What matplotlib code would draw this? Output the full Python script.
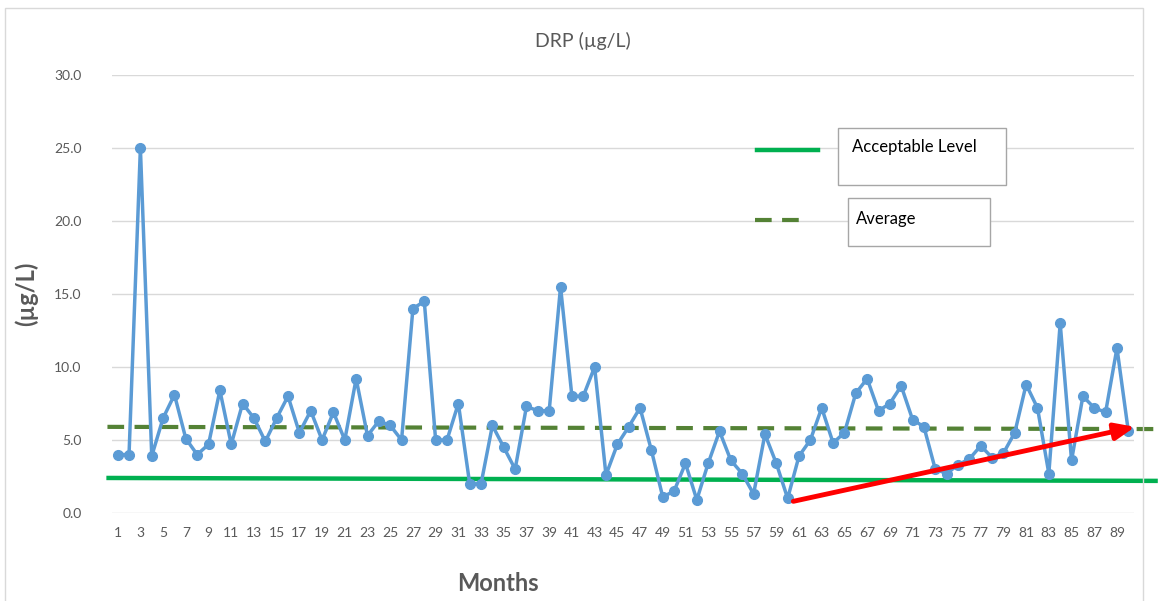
import matplotlib.pyplot as plt
from matplotlib.lines import Line2D
from matplotlib.patches import Rectangle

plt.rcParams['font.family'] = ['Lato', 'DejaVu Sans']

months = list(range(1, 91))
drp = [4.0, 4.0, 25.0, 3.9, 6.5, 8.1, 5.1, 4.0, 4.7, 8.4,
       4.7, 7.5, 6.5, 4.9, 6.5, 8.0, 5.5, 7.0, 5.0, 6.9,
       5.0, 9.2, 5.3, 6.3, 6.0, 5.0, 14.0, 14.5, 5.0, 5.0,
       7.5, 2.0, 2.0, 6.0, 4.5, 3.0, 7.3, 7.0, 7.0, 15.5,
       8.0, 8.0, 10.0, 2.6, 4.7, 5.9, 7.2, 4.3, 1.1, 1.5,
       3.4, 0.9, 3.4, 5.6, 3.6, 2.7, 1.3, 5.4, 3.4, 1.0,
       3.9, 5.0, 7.2, 4.8, 5.5, 8.2, 9.2, 7.0, 7.5, 8.7,
       6.4, 5.9, 3.0, 2.7, 3.3, 3.7, 4.6, 3.8, 4.1, 5.5,
       8.8, 7.2, 2.7, 13.0, 3.6, 8.0, 7.2, 6.9, 11.3, 5.6]

# hand drawn reference lines (start, end)
acceptable_x = [0.2, 92.4]
acceptable_y = [2.4, 2.2]
average_x = [0.1, 92.2]
average_y = [5.9, 5.75]
trend_x = [60.5, 90.6]
trend_y = [0.8, 5.9]

fig = plt.figure(figsize=(11.63, 6.01), dpi=100)
ax = fig.add_axes([112 / 1163, 88 / 601, 1022 / 1163, 438 / 601])

ax.plot(months, drp, color='#5B9BD5', linewidth=2.5, marker='o',
        markersize=7, zorder=3)
ax.plot(acceptable_x, acceptable_y, color='#00B050', linewidth=3.2,
        clip_on=False, zorder=2)
ax.plot(average_x, average_y, color='#548235', linewidth=3,
        dashes=(4, 2.5), clip_on=False, zorder=2)
ax.annotate('', xy=(trend_x[1], trend_y[1]), xytext=(trend_x[0], trend_y[0]),
            arrowprops=dict(arrowstyle='-|>,head_length=1.2,head_width=0.5',
                            color='#FF0000', lw=3.5, shrinkA=0, shrinkB=0),
            zorder=4, annotation_clip=False)

ax.set_xlim(0.5, 90.5)
ax.set_ylim(0, 30)
ax.set_yticks(range(0, 31, 5))
ax.set_yticklabels([f'{v:.1f}' for v in range(0, 31, 5)])
ax.set_xticks(months[::2])
ax.tick_params(axis='both', length=0, labelsize=10, colors='#595959')
ax.tick_params(axis='x', pad=10)
ax.tick_params(axis='y', pad=22)
ax.grid(axis='y', color='#D9D9D9', linewidth=1)
ax.set_axisbelow(True)
for s in ax.spines.values():
    s.set_visible(False)

ax.set_title('DRP (µg/L)', fontsize=14, color='#595959', pad=20,
             x=(583 - 112) / 1022)
ax.set_xlabel('Months', fontsize=17, fontweight='bold', color='#595959')
ax.xaxis.set_label_coords(0.378, -0.135)
ax.set_ylabel('(µg/L)', fontsize=17, fontweight='bold', color='#595959')
ax.yaxis.set_label_coords(-0.072, 0.5)

# legend-like shapes
fig.add_artist(Line2D([757 / 1163, 818 / 1163], [1 - 150 / 601, 1 - 150 / 601],
                      color='#00B050', linewidth=3.2))
fig.add_artist(Line2D([755 / 1163, 805 / 1163], [1 - 220 / 601, 1 - 220 / 601],
                      color='#548235', linewidth=3, dashes=(4, 2.5)))
fig.add_artist(Rectangle((838 / 1163, 1 - 185 / 601), 168 / 1163, 57 / 601,
                         transform=fig.transFigure, facecolor='white',
                         edgecolor='#A6A6A6', linewidth=1))
fig.add_artist(Rectangle((848 / 1163, 1 - 246 / 601), 142 / 1163, 48 / 601,
                         transform=fig.transFigure, facecolor='white',
                         edgecolor='#A6A6A6', linewidth=1))
fig.text(852 / 1163, 1 - 147 / 601, 'Acceptable Level', fontsize=12,
         va='center', ha='left', color='black')
fig.text(856 / 1163, 1 - 219 / 601, 'Average', fontsize=12,
         va='center', ha='left', color='black')

# chart border
fig.add_artist(Rectangle((5 / 1163, -0.01), 1138 / 1163, 1 - 8 / 601 + 0.01,
                         transform=fig.transFigure, fill=False,
                         edgecolor='#D9D9D9', linewidth=1))

fig.savefig('out.png', dpi=100)
